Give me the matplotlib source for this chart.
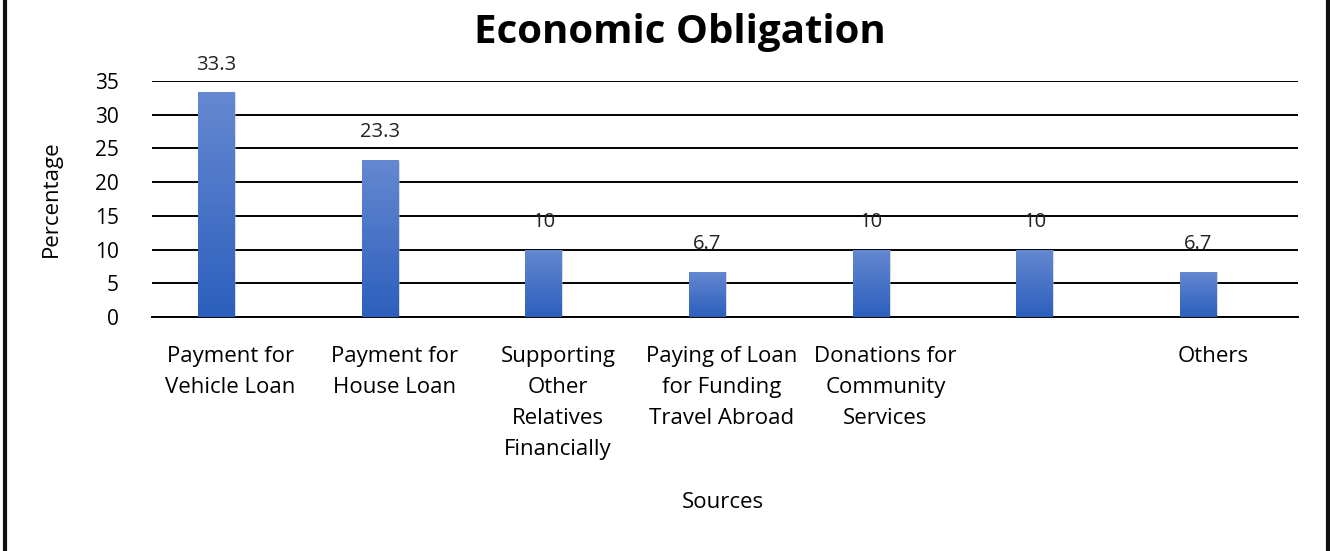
import numpy as np
import matplotlib
matplotlib.use("Agg")
import matplotlib.pyplot as plt
from matplotlib.patches import Rectangle

categories = ["Payment for\nVehicle Loan", "Payment for\nHouse Loan",
              "Supporting\nOther\nRelatives\nFinancially",
              "Paying of Loan\nfor Funding\nTravel Abroad",
              "Donations for\nCommunity\nServices", "", "Others"]
values = [33.3, 23.3, 10, 6.7, 10, 10, 6.7]
value_labels = ["33.3", "23.3", "10", "6.7", "10", "10", "6.7"]
yticks = [0, 5, 10, 15, 20, 25, 30, 35]

plt.rcParams["font.family"] = ["Open Sans", "DejaVu Sans"]

fig = plt.figure(figsize=(13.30, 5.51), dpi=100)
ax = fig.add_axes([152 / 1330, 1 - 317 / 551, (1298 - 152) / 1330, (317 - 81) / 551])

x = np.arange(len(values))
bar_w = 0.22
grad = np.linspace(0, 1, 256).reshape(-1, 1)
cmap = matplotlib.colors.LinearSegmentedColormap.from_list("g", ["#2c5fbd", "#6589d1"])
for xi, v in zip(x, values):
    # soft shadow
    ax.add_patch(Rectangle((xi - bar_w / 2 + 0.012, 0), bar_w, v - 0.1,
                           facecolor="#bbbbbb", edgecolor="none", alpha=0.5, zorder=2))
    r = Rectangle((xi - bar_w / 2, 0), bar_w, v, facecolor="none", edgecolor="none", zorder=3)
    ax.add_patch(r)
    im = ax.imshow(grad, extent=(xi - bar_w / 2, xi + bar_w / 2, 0, v), origin="lower",
                   cmap=cmap, aspect="auto", zorder=3)
    im.set_clip_path(r)

for xi, v, lab in zip(x, values, value_labels):
    ax.text(xi, v + 4.1, lab, ha="center", va="center", fontsize=14.5, color="#222222", zorder=4)

ax.set_xlim(-0.39, 6.61)
ax.set_ylim(0, 35)
ax.set_yticks(yticks)
ax.tick_params(axis="y", length=0, labelsize=15, pad=24)
ax.set_xticks(x + 0.09)
ax.set_xticklabels(categories, fontsize=16, linespacing=1.62, va="top")
ax.tick_params(axis="x", length=0, pad=21)
ax.grid(axis="y", color="black", linewidth=1.4, zorder=1)
ax.set_axisbelow(True)
for s in ["top", "right", "left"]:
    ax.spines[s].set_visible(False)
ax.spines["bottom"].set_linewidth(1.4)

ax.set_ylabel("Percentage", fontsize=16)
ax.yaxis.set_label_coords(-0.079, 0.5)
fig.text(723 / 1330, 1 - 503 / 551, "Sources", ha="center", va="center", fontsize=16)
fig.text(680 / 1330, 1 - 32 / 551, "Economic Obligation", ha="center", va="center",
         fontsize=29, fontweight="bold")

# outer frame lines
fig.add_artist(plt.Line2D([5 / 1330, 5 / 1330], [0, 1], color="#111111", linewidth=3))
fig.add_artist(plt.Line2D([1328 / 1330, 1328 / 1330], [0, 1], color="#111111", linewidth=3))

fig.savefig("out.png", dpi=100)
